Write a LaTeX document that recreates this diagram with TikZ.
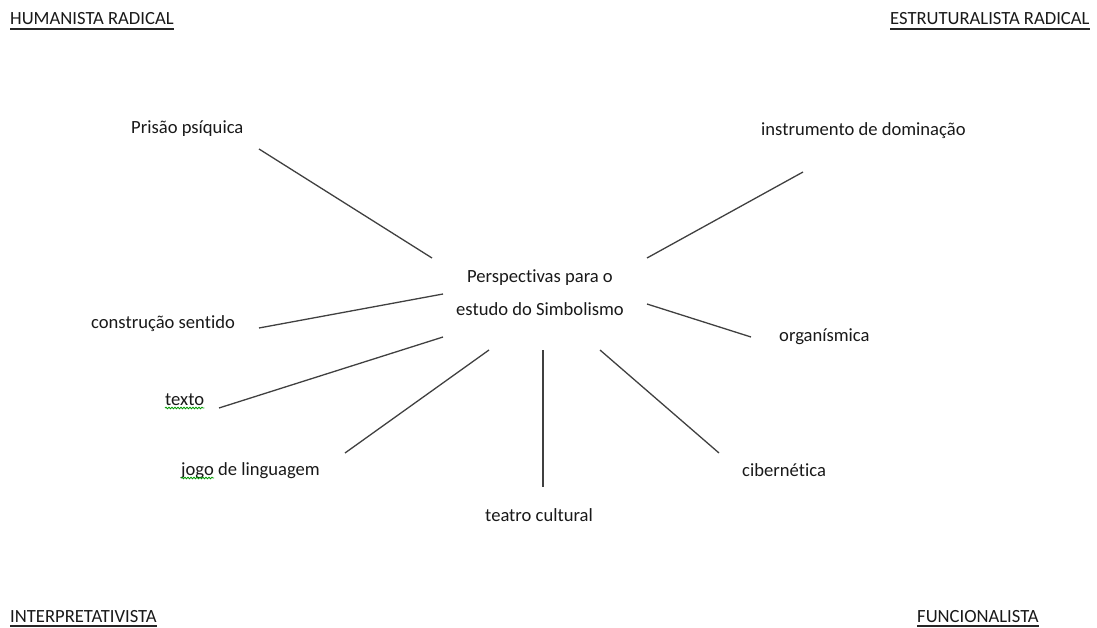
\documentclass[tikz,border=0pt]{standalone}
\usepackage{fontspec}
\setmainfont{Carlito}[Ligatures=NoCommon]
\usetikzlibrary{decorations.pathmorphing}
\begin{document}
\begin{tikzpicture}[x=1pt,y=-1pt,
  lbl/.style={inner sep=0pt,anchor=base west,font=\fontsize{18.6}{21}\selectfont,text=black!90},
  ctr/.style={inner sep=0pt,anchor=base,font=\fontsize{18.6}{21}\selectfont,text=black!90},
  spoke/.style={draw=black!75,line width=1.3pt},
  uline/.style={draw=black!85,line width=1.3pt},
  wavy/.style={draw=green!60!black,line width=0.8pt,decorate,decoration={snake,amplitude=0.8pt,segment length=3pt}}]
\useasboundingbox (0,0) rectangle (1097,628);
% quadrant headings
\node[lbl] (hr) at (10,25) {HUMANISTA RADICAL};
\node[lbl] (er) at (890,25) {ESTRUTURALISTA RADICAL};
\node[lbl] (ip) at (10,622) {INTERPRETATIVISTA};
\node[lbl] (fu) at (917,622) {FUNCIONALISTA};
\foreach \n in {hr,er,ip,fu}
  \draw[uline] ([yshift=-4pt]\n.base west) -- ([yshift=-4pt]\n.base east);
% centre
\node[ctr] (c1) at (540,283) {Perspectivas para o};
\node[ctr] (c2) at (540,315) {estudo do Simbolismo};
% leaves
\node[lbl] (pp) at (131,134) {Prisão psíquica};
\node[lbl] (id) at (761,136) {instrumento de dominação};
\node[lbl] (cs) at (91,328) {construção sentido};
\node[lbl] (or) at (779,341) {organísmica};
\node[lbl] (tx) at (165,405) {texto};
\node[lbl] (jg) at (181,475) {jogo de linguagem};
\node[lbl] (tc) at (485,521) {teatro cultural};
\node[lbl] (cb) at (742,476) {cibernética};
% spell-check marks
\draw[wavy] ([yshift=-3pt]tx.base west) -- ([yshift=-3pt]tx.base east);
\draw[wavy] ([yshift=-3pt]jg.base west) -- ([yshift=-3pt,xshift=33pt]jg.base west);
% spoke end points
\coordinate (a1) at (432,258); \coordinate (b1) at (259,149);
\coordinate (a2) at (647,258); \coordinate (b2) at (803,172);
\coordinate (a3) at (443,294); \coordinate (b3) at (259,328);
\coordinate (a4) at (647,304); \coordinate (b4) at (751,337);
\coordinate (a5) at (443,337); \coordinate (b5) at (219,408);
\coordinate (a6) at (489,350); \coordinate (b6) at (345,453);
\coordinate (a7) at (543,350); \coordinate (b7) at (543,487);
\coordinate (a8) at (600,350); \coordinate (b8) at (719,453);
\foreach \i in {1,...,8}
  \draw[spoke] (a\i) -- (b\i);
\end{tikzpicture}
\end{document}
